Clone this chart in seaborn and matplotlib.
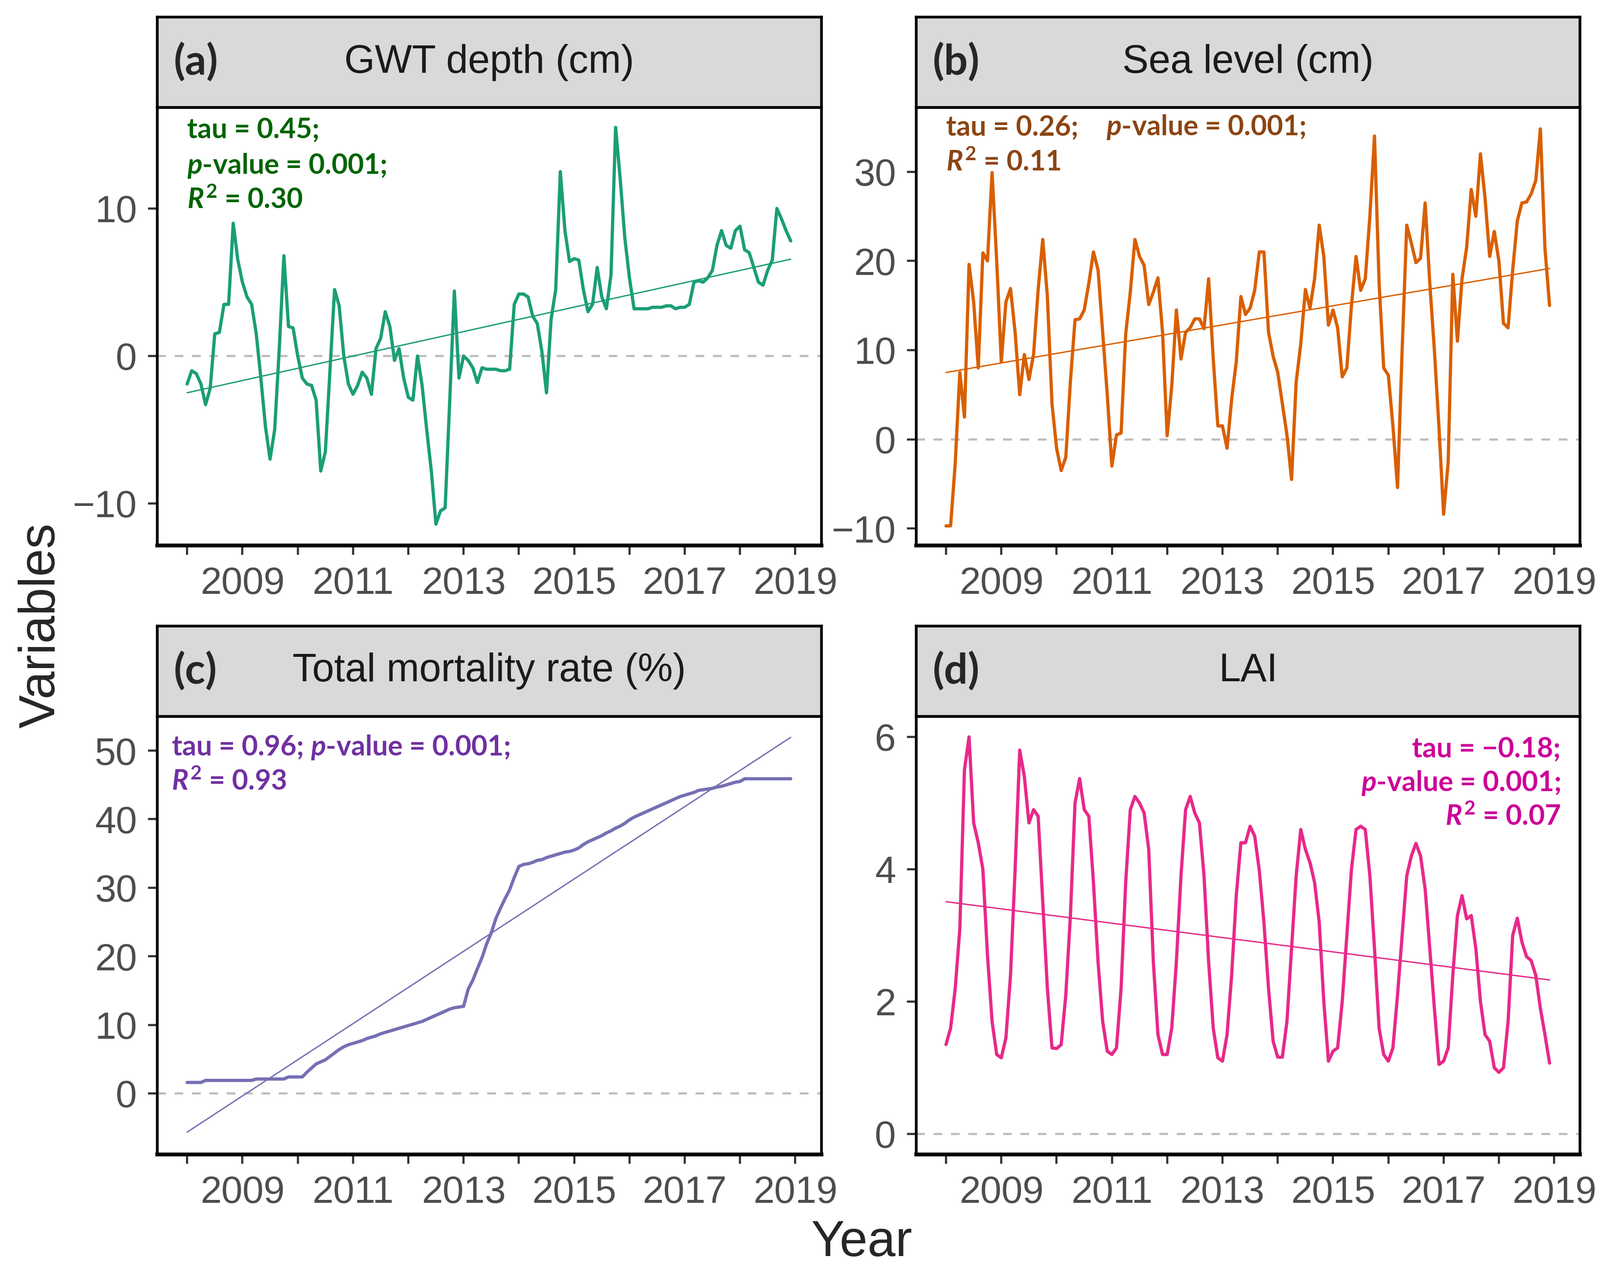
import numpy as np
import matplotlib
matplotlib.use("Agg")
import matplotlib.pyplot as plt
import matplotlib.transforms as mtransforms
import seaborn as sns

# =========================
# DATA (monthly, Jan 2008 - Dec 2018)
# =========================
months = 2008 + np.arange(132) / 12.0

gwt_depth = [
    -1.9, -1.0, -1.2, -1.9, -3.3, -2.2, 1.5, 1.6, 3.5, 3.5, 9.0, 6.5,
    5.0, 4.0, 3.5, 1.5, -1.5, -4.8, -7.0, -5.0, 0.5, 6.8, 2.0, 1.9,
    0.0, -1.5, -1.9, -2.0, -3.0, -7.8, -6.5, -1.0, 4.5, 3.4, 0.0, -1.9,
    -2.6, -2.0, -1.1, -1.5, -2.6, 0.5, 1.2, 3.0, 2.0, -0.3, 0.5, -1.5,
    -2.8, -3.0, 0.0, -2.0, -5.0, -7.8, -11.4, -10.5, -10.3, -3.0, 4.4, -1.5,
    0.0, -0.3, -0.8, -1.8, -0.8, -0.9, -0.9, -0.9, -1.0, -1.0, -0.9, 3.5,
    4.2, 4.2, 4.0, 2.7, 2.2, 0.3, -2.5, 2.5, 4.5, 12.5, 8.5, 6.4,
    6.6, 6.5, 4.5, 3.0, 3.5, 6.0, 4.0, 3.2, 5.5, 15.5, 12.0, 8.0,
    5.3, 3.2, 3.2, 3.2, 3.2, 3.3, 3.3, 3.3, 3.4, 3.4, 3.2, 3.3,
    3.3, 3.5, 5.0, 5.1, 5.0, 5.3, 5.8, 7.5, 8.5, 7.5, 7.3, 8.5,
    8.8, 7.2, 7.0, 6.0, 5.0, 4.8, 5.8, 6.5, 10.0, 9.3, 8.5, 7.8,
]

sea_level = [
    -9.7, -9.7, -2.7, 7.5, 2.5, 19.6, 15.4, 8.0, 20.9, 20.0, 29.9, 20.0,
    8.7, 15.4, 16.9, 12.0, 5.0, 9.5, 6.7, 9.5, 16.8, 22.4, 16.0, 4.0,
    -1.0, -3.5, -2.0, 6.5, 13.4, 13.5, 14.5, 17.5, 21.0, 19.0, 12.0, 5.0,
    -3.0, 0.5, 0.7, 11.8, 16.5, 22.4, 20.5, 19.5, 15.1, 16.5, 18.1, 12.0,
    0.4, 6.0, 14.5, 9.0, 12.0, 12.5, 13.5, 13.5, 12.4, 18.0, 9.0, 1.5,
    1.5, -1.0, 4.5, 8.7, 16.0, 14.0, 14.7, 16.7, 21.0, 21.0, 12.0, 9.3,
    7.5, 4.0, 0.5, -4.5, 6.4, 10.7, 16.8, 14.7, 18.0, 24.0, 20.5, 12.8,
    14.5, 12.5, 7.0, 8.0, 15.0, 20.5, 16.7, 18.0, 25.0, 34.0, 17.5, 8.0,
    7.2, 1.5, -5.4, 10.0, 24.0, 22.0, 19.8, 20.3, 26.5, 17.5, 10.0, 1.3,
    -8.4, -2.5, 18.5, 11.0, 18.0, 21.5, 28.0, 25.0, 32.0, 27.0, 20.5, 23.3,
    20.0, 13.0, 12.5, 19.0, 24.5, 26.5, 26.6, 27.5, 29.0, 34.8, 21.4, 15.0,
]

mortality = [
    1.6, 1.6, 1.6, 1.6, 1.9, 1.9, 1.9, 1.9, 1.9, 1.9, 1.9, 1.9,
    1.9, 1.9, 1.9, 2.1, 2.1, 2.1, 2.1, 2.1, 2.1, 2.1, 2.4, 2.4,
    2.4, 2.4, 3.1, 3.7, 4.3, 4.6, 4.9, 5.4, 5.9, 6.4, 6.8, 7.1,
    7.3, 7.5, 7.7, 8.0, 8.2, 8.4, 8.7, 8.9, 9.1, 9.3, 9.5, 9.7,
    9.9, 10.1, 10.3, 10.5, 10.8, 11.1, 11.4, 11.7, 12.0, 12.3, 12.5, 12.6,
    12.7, 15.2, 16.5, 18.2, 19.8, 21.8, 23.4, 25.5, 27.0, 28.4, 29.7, 31.5,
    33.1, 33.4, 33.5, 33.7, 34.0, 34.1, 34.4, 34.6, 34.8, 35.0, 35.2, 35.3,
    35.5, 35.8, 36.3, 36.7, 37.0, 37.3, 37.6, 38.0, 38.3, 38.7, 39.0, 39.4,
    39.9, 40.3, 40.6, 40.9, 41.2, 41.5, 41.8, 42.1, 42.4, 42.7, 43.0, 43.3,
    43.5, 43.7, 43.9, 44.2, 44.3, 44.4, 44.5, 44.7, 44.8, 45.0, 45.2, 45.4,
    45.5, 45.9, 45.9, 45.9, 45.9, 45.9, 45.9, 45.9, 45.9, 45.9, 45.9, 45.9,
]

lai = [
    1.35, 1.6, 2.2, 3.1, 5.5, 6.0, 4.7, 4.4, 4.0, 2.7, 1.7, 1.2,
    1.15, 1.45, 2.4, 4.0, 5.8, 5.4, 4.7, 4.9, 4.8, 3.5, 2.2, 1.3,
    1.29, 1.35, 2.1, 3.3, 5.0, 5.37, 4.9, 4.8, 3.8, 2.6, 1.7, 1.25,
    1.2, 1.3, 2.2, 3.8, 4.9, 5.1, 5.0, 4.85, 4.3, 2.6, 1.5, 1.2,
    1.2, 1.6, 2.6, 3.9, 4.9, 5.1, 4.85, 4.7, 3.9, 2.6, 1.6, 1.15,
    1.1, 1.5, 2.4, 3.6, 4.4, 4.4, 4.65, 4.5, 3.98, 3.2, 2.2, 1.4,
    1.16, 1.16, 1.7, 2.8, 3.9, 4.6, 4.3, 4.1, 3.8, 3.2, 2.0, 1.1,
    1.25, 1.3, 2.0, 3.0, 4.0, 4.6, 4.65, 4.6, 3.9, 2.8, 1.6, 1.2,
    1.1, 1.3, 2.1, 3.0, 3.9, 4.2, 4.39, 4.2, 3.7, 2.8, 1.9, 1.05,
    1.1, 1.3, 2.4, 3.3, 3.6, 3.25, 3.3, 2.8, 2.0, 1.5, 1.4, 1.0,
    0.93, 1.0, 1.7, 3.0, 3.26, 2.9, 2.68, 2.62, 2.4, 1.9, 1.5, 1.07,
]

tags = ["(a)", "(b)", "(c)", "(d)"]
titles = ["GWT depth (cm)", "Sea level (cm)", "Total mortality rate (%)", "LAI"]
series = [gwt_depth, sea_level, mortality, lai]
line_colors = ["#1B9E77", "#D95F02", "#7570B3", "#E7298A"]
text_colors = ["#006400", "#8B4513", "#7030A0", "#CC0099"]
yticks = [[-10, 0, 10], [-10, 0, 10, 20, 30], [0, 10, 20, 30, 40, 50], [0, 2, 4, 6]]
ylims = [(-12.85, 16.85), (-11.9, 37.2), (-8.9, 55.0), (-0.31, 6.31)]

# stats text: (x in years, y in axes fraction, text, ha)
stats = [
    [(2008.0, 0.930, "tau = 0.45;", "left"),
     (2008.0, 0.848, r"$p$-value = 0.001;", "left"),
     (2008.0, 0.769, r"$R^2$ = 0.30", "left")],
    [(2008.0, 0.936, "tau = 0.26;", "left"),
     (2010.9, 0.936, r"$p$-value = 0.001;", "left"),
     (2008.0, 0.855, r"$R^2$ = 0.11", "left")],
    [(2007.72, 0.911, r"tau = 0.96; $p$-value = 0.001;", "left"),
     (2007.72, 0.831, r"$R^2$ = 0.93", "left")],
    [(2019.12, 0.907, "tau = \u22120.18;", "right"),
     (2019.12, 0.829, r"$p$-value = 0.001;", "right"),
     (2019.12, 0.751, r"$R^2$ = 0.07", "right")],
]

# =========================
# STYLE
# =========================
sns.set_style("white")
plt.rcParams["font.family"] = ["Liberation Sans", "DejaVu Sans"]
plt.rcParams["mathtext.fontset"] = "custom"
plt.rcParams["mathtext.rm"] = "Lato:bold"
plt.rcParams["mathtext.it"] = "Lato:italic:bold"
plt.rcParams["mathtext.bf"] = "Lato:bold"
plt.rcParams["axes.unicode_minus"] = True

fig = plt.figure(figsize=(16.38, 13.095), dpi=200)

W, H, S = 0.415, 0.3425, 0.0706
lefts = [0.0983, 0.5726, 0.0983, 0.5726]
bottoms = [0.5735, 0.5735, 0.0974, 0.0974]

years = list(range(2008, 2020))
year_labels = [str(y) if y % 2 else "" for y in years]

for i in range(4):
    ax = fig.add_axes([lefts[i], bottoms[i], W, H])
    vals = np.array(series[i])

    ax.axhline(0, color="#BDBDBD", lw=1.6, ls=(0, (4, 4)), zorder=1)
    sns.lineplot(x=months, y=vals, ax=ax, color=line_colors[i], lw=2.4, zorder=3)
    sns.regplot(x=months, y=vals, ax=ax, scatter=False, ci=None,
                color=line_colors[i], line_kws=dict(lw=1.0, zorder=2))

    ax.set_xlim(2007.46, 2019.47)
    ax.set_ylim(*ylims[i])
    ax.set_xticks(years)
    ax.set_xticklabels(year_labels)
    ax.set_yticks(yticks[i])
    ax.set_xlabel("")
    ax.set_ylabel("")
    ax.tick_params(axis="both", bottom=True, left=True, length=7, width=1.6,
                   color="#333333", labelcolor="#4D4D4D", labelsize=28)
    ax.tick_params(axis="x", pad=8)
    ax.tick_params(axis="y", pad=8)
    for sp in ax.spines.values():
        sp.set_visible(True)
        sp.set_color("black")
        sp.set_linewidth(2.0)
    ax.spines["bottom"].set_linewidth(2.8)

    trans = mtransforms.blended_transform_factory(ax.transData, ax.transAxes)
    for x, y, txt, ha in stats[i]:
        ax.text(x, y, txt, transform=trans, ha=ha, va="baseline",
                fontsize=20.5, fontweight="bold", color=text_colors[i],
                family=["Lato", "DejaVu Sans"], zorder=5)

    # facet strip
    sax = fig.add_axes([lefts[i], bottoms[i] + H, W, S])
    sax.set_facecolor("#D9D9D9")
    sax.set_xticks([])
    sax.set_yticks([])
    for sp in sax.spines.values():
        sp.set_visible(True)
        sp.set_color("black")
        sp.set_linewidth(2.0)
    sax.text(0.025, 0.5, tags[i], transform=sax.transAxes, ha="left", va="center",
             fontsize=31, fontweight="bold", family=["Lato", "DejaVu Sans"])
    sax.text(0.5, 0.5, titles[i], transform=sax.transAxes, ha="center", va="center",
             fontsize=29, color="#1A1A1A")

fig.text(0.0256, 0.511, "Variables", rotation=90, ha="center", va="center", fontsize=37)
fig.text(0.5385, 0.028, "Year", ha="center", va="center", fontsize=37)

fig.savefig("out.png", dpi=200)
